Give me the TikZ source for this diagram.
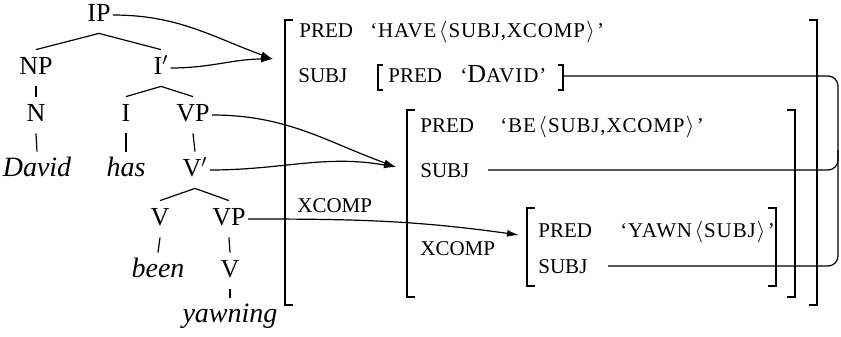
\documentclass[tikz,border=0pt]{standalone}
\usepackage{fontspec}
\setmainfont{Liberation Serif}
\usepackage{tikz}
\usetikzlibrary{arrows.meta}

\newcommand{\lan}{\mkern2mu\langle\mkern1mu}
\newcommand{\ran}{\mkern1mu\rangle\mkern2mu}

\begin{document}
\begin{tikzpicture}[x=0.5pt, y=-0.5pt,
  cat/.style={font=\fontsize{13}{15}\selectfont, anchor=base,
    text height=11pt, text depth=5pt, inner sep=1pt},
  word/.style={cat, font=\fontsize{14}{16}\selectfont\itshape},
  feat/.style={font=\fontsize{10.5}{12}\selectfont, anchor=base west, inner sep=0pt},
  val/.style={feat, font=\fontsize{10.5}{12}\selectfont\addfontfeatures{LetterSpace=4}},
  brack/.style={line width=1pt},
  link/.style={semithick, -{Latex[length=6pt,width=3.5pt]}}]
  \useasboundingbox (0,0) rectangle (841,337);

  % c-structure
  \node[cat] (ip) at (99,21) {IP};
  \node[cat] (np) at (36,74) {NP};
  \node[cat] (ibar) at (161,74) {I$'$};
  \node[cat] (n) at (36,121) {N};
  \node[cat] (i) at (126,121) {I};
  \node[cat] (vp) at (193,121) {VP};
  \node[word] (david) at (37,176) {David};
  \node[word] (has) at (126,176) {has};
  \node[cat] (vbar) at (195,176) {V$'$};
  \node[cat] (v) at (160,225) {V};
  \node[cat] (vpb) at (229,225) {VP};
  \node[word] (been) at (158,277) {been};
  \node[cat] (vb) at (230,277) {V};
  \node[word] (yawning) at (230,322) {yawning};
  \foreach \a/\b in {ip/np, ip/ibar, np/n, n/david, ibar/i, ibar/vp, i/has,
      vp/vbar, vbar/v, vbar/vpb, v/been, vpb/vb, vb/yawning}
    \draw[line width=0.6pt] (\a.south) -- (\b.north);

  % f-structure
  \foreach \xa/\ya/\xb/\yb in {285/20/817/305, 407/110/795/297, 527/208/776/286} {
    \draw[brack] (\xa+8,\ya) -- (\xa,\ya) -- (\xa,\yb) -- (\xa+8,\yb);
    \draw[brack] (\xb-8,\ya) -- (\xb,\ya) -- (\xb,\yb) -- (\xb-8,\yb);
  }
  \draw[semithick] (383,65) -- (378,65) -- (378,90) -- (383,90);
  \draw[semithick] (558,65) -- (563,65) -- (563,90) -- (558,90);

  \node[feat] (preda) at (299,38) {PRED};
  \node[val] (have) at (370,38) {`HAVE$\lan$SUBJ,XCOMP$\ran$'};
  \node[feat] (subja) at (298,83) {SUBJ};
  \node[feat] (predd) at (388,83) {PRED};
  \node[val] (dvd) at (460,83) {`{\fontsize{13}{14}\selectfont D}AVID'};
  \node[feat] (xcompa) at (297,212) {XCOMP};
  \node[feat] (predb) at (420,132) {PRED};
  \node[val] (be) at (500,132) {`BE$\lan$SUBJ,XCOMP$\ran$'};
  \node[feat] (subjb) at (420,177) {SUBJ};
  \node[feat] (xcompb) at (420,255) {XCOMP};
  \node[feat] (predc) at (538,237) {PRED};
  \node[val] (yawn) at (620,237) {`YAWN$\lan$SUBJ$\ran$'};
  \node[feat] (subjc) at (538,273) {SUBJ};

  % structure sharing
  \coordinate (tagd) at (563,76);
  \coordinate (tagb) at (488,170);
  \coordinate (tagc) at (608,266);
  \coordinate (rim) at (838,266);
  \coordinate (rimb) at (838,150);
  \draw[semithick, rounded corners=5pt] (tagd) -| (rim) -- (tagc);
  \draw[semithick, rounded corners=5pt] (tagb) -| (rimb);

  % projection arrows
  \coordinate (fa) at (273,59);
  \coordinate (fb) at (396,167);
  \coordinate (fc) at (519,235);
  \draw[link] (ip.east) to[out=0, in=160] (fa);
  \draw[link] (ibar.east) to[out=0, in=180] (fa);
  \draw[link] (vp.east) to[out=0, in=160] (fb);
  \draw[link] (vbar.east) to[out=0, in=170] (fb);
  \draw[link] (vpb.east) to[out=0, in=172] (fc);
\end{tikzpicture}
\end{document}
